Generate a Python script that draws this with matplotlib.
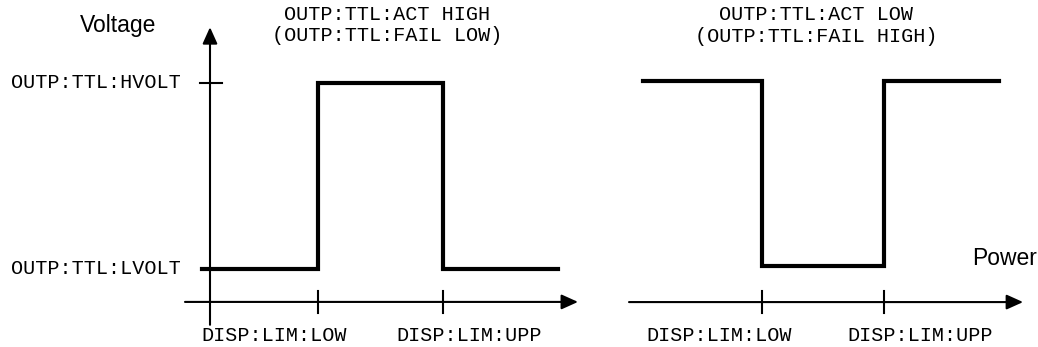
import matplotlib
matplotlib.use("Agg")
import matplotlib.pyplot as plt

# TTL output vs. power, limits in "limit units" (LOW = 1, UPP = 2)
limits = [1.0, 2.0]
limit_labels = ["DISP:LIM:LOW", "DISP:LIM:UPP"]
sweep_left = [0.07, 2.92]
sweep_right = [0.025, 2.94]
act_high_levels = [0, 1, 0]   # 0 = LVOLT, 1 = HVOLT
act_low_levels = [1, 0, 1]
level_labels = ["OUTP:TTL:LVOLT", "OUTP:TTL:HVOLT"]
title_left = ["OUTP:TTL:ACT HIGH", "(OUTP:TTL:FAIL LOW)"]
title_right = ["OUTP:TTL:ACT LOW", "(OUTP:TTL:FAIL HIGH)"]

W, H = 1038, 347
fig = plt.figure(figsize=(W / 100, H / 100), dpi=100)
mono = dict(family=["Liberation Mono", "DejaVu Sans Mono"], fontsize=14.5)
sans = dict(family=["Liberation Sans", "DejaVu Sans"], fontsize=16.5)
XL, YL = (-0.2, 3.2), (-0.4, 1.4)


def panel(x0, ppx, y0, ppy):
    # place an axes so that data (0,0) lands on pixel (x0, y0)
    left = x0 + ppx * XL[0]
    right = x0 + ppx * XL[1]
    bot = y0 - ppy * YL[0]
    top = y0 - ppy * YL[1]
    ax = fig.add_axes([left / W, 1 - bot / H, (right - left) / W, (bot - top) / H])
    ax.set_xlim(XL)
    ax.set_ylim(YL)
    ax.axis("off")
    return ax


def arrow(ax, start, end):
    ax.annotate("", xy=end, xytext=start,
                arrowprops=dict(arrowstyle="-|>,head_length=1.0,head_width=0.45",
                                mutation_scale=10, lw=1.5, color="black",
                                shrinkA=0, shrinkB=0))


def signal(ax, sweep, levels):
    xs = [sweep[0], limits[0], limits[1], sweep[1]]
    ys = levels + [levels[-1]]
    ax.step(xs, ys, where="post", color="black", lw=3, solid_joinstyle="miter")


def power_axis(ax, y, x_start, x_end, lab_x, lab_y):
    arrow(ax, (x_start, y), (x_end, y))
    for lim, lab, lx in zip(limits, limit_labels, lab_x):
        ax.plot([lim, lim], [y + 0.06, y - 0.06], color="black", lw=1.5)
        ax.text(lx, lab_y, lab, ha="center", va="center", **mono)


# left panel: active high
axl = panel(193, 125, 269, 186)
signal(axl, sweep_left, act_high_levels)
arrow(axl, (0.136, -0.30), (0.136, 1.30))
axl.plot([0.056, 0.232], [1, 1], color="black", lw=1.5)
for lvl, lab in enumerate(level_labels):
    axl.text(-0.1, lvl, lab, ha="right", va="center", **mono)
axl.text(-0.6, 1.31, "Voltage", ha="center", va="center", **sans)
power_axis(axl, -0.177, -0.064, 3.08, [0.652, 2.212], -0.355)
axl.text(1.55, 1.366, title_left[0], ha="center", va="center", **mono)
axl.text(1.55, 1.253, title_left[1], ha="center", va="center", **mono)

# right panel: active low
axr = panel(640, 122, 266, 185)
signal(axr, sweep_right, act_low_levels)
power_axis(axr, -0.195, -0.09, 3.14, [0.648, 2.295], -0.373)
axr.text(3.25, 0.043, "Power", ha="right", va="center", **sans)
axr.text(1.443, 1.357, title_right[0], ha="center", va="center", **mono)
axr.text(1.443, 1.243, title_right[1], ha="center", va="center", **mono)

fig.savefig("out.png", dpi=100, facecolor="white")
